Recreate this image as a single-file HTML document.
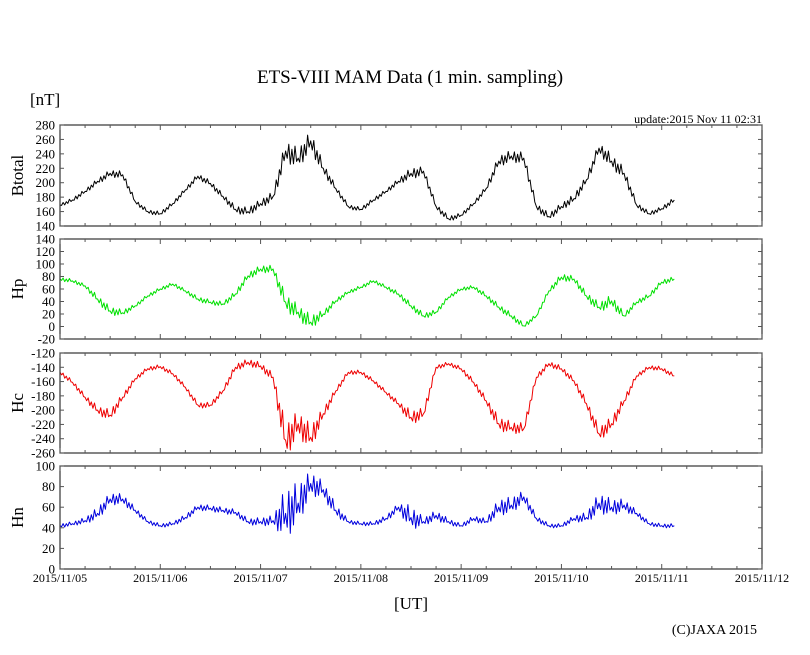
<!DOCTYPE html>
<html><head><meta charset="utf-8">
<style>
body{margin:0;background:#fff;}
svg{display:block;font-family:"Liberation Serif",serif;}
</style></head>
<body>
<svg id="chart" width="810" height="655" viewBox="0 0 810 655" xmlns="http://www.w3.org/2000/svg">
<text x="410" y="83" font-size="19" text-anchor="middle">ETS-VIII MAM Data (1 min. sampling)</text>
<text x="30" y="105" font-size="17">[nT]</text>
<text x="762" y="123" font-size="12" text-anchor="end">update:2015 Nov 11 02:31</text>
<text x="411" y="609" font-size="17" text-anchor="middle">[UT]</text>
<text x="757" y="634" font-size="14" text-anchor="end">(C)JAXA 2015</text>
<g id="plots"></g>
</svg>
<script>
// time step: 3 hours, starting 2015/11/05 00:00 (in days)
const stepDays = 0.125;
const dayLabels = ["2015/11/05","2015/11/06","2015/11/07","2015/11/08","2015/11/09","2015/11/10","2015/11/11","2015/11/12"];
const btotalValues = [169,176,188,202,213,211,174,160,157,171,190,209,199,181,163,160,171,181,244,234,258,220,192,167,163,176,188,202,213,216,167,150,155,171,192,230,237,234,167,153,167,178,204,248,230,213,169,157,164,176];
const btotalSpread = [2,3,3,4,5,5,3,3,3,3,3,4,4,4,5,6,6,7,15,14,14,8,4,3,3,3,3,4,8,6,4,4,3,3,4,8,8,8,5,5,5,6,6,8,10,8,4,3,3,4];
const btotalTicks = [140,160,180,200,220,240,260,280];
const hpValues = [76,73,65,44,25,22,33,49,60,68,57,44,39,36,52,81,92,92,39,23,7,20,41,55,63,73,63,52,33,17,23,47,60,63,49,31,17,1,17,57,79,76,49,31,41,17,39,49,71,76];
const hpSpread = [3,3,3,6,7,5,3,3,3,3,3,4,4,4,5,6,6,6,14,12,12,6,4,3,3,3,3,4,5,5,4,3,3,3,4,5,5,4,3,4,6,5,6,8,10,5,4,4,4,4];
const hpTicks = [-20,0,20,40,60,80,100,120,140];
const hcValues = [-147,-161,-182,-200,-207,-182,-156,-142,-139,-149,-168,-193,-193,-173,-140,-133,-138,-154,-242,-219,-238,-205,-173,-147,-147,-159,-175,-191,-210,-205,-140,-135,-142,-161,-187,-219,-224,-226,-154,-135,-142,-159,-191,-233,-219,-187,-152,-140,-142,-152];
const hcSpread = [3,3,4,6,8,5,3,3,3,3,3,4,4,4,5,5,5,6,25,18,18,8,4,3,3,3,3,4,10,8,3,3,3,4,5,10,8,8,4,4,4,4,6,10,10,6,3,3,3,3];
const hcTicks = [-260,-240,-220,-200,-180,-160,-140,-120];
const hnValues = [42,44,47,54,68,68,57,46,42,44,50,60,59,57,55,46,46,47,54,64,83,77,57,46,44,44,49,60,50,46,52,46,42,49,46,60,62,70,49,42,42,49,50,64,60,62,54,44,42,42];
const hnSpread = [2,2,3,6,6,5,3,2,2,2,3,3,3,3,3,3,4,5,25,20,12,8,6,2,2,2,3,4,12,4,5,3,2,3,3,8,8,6,3,2,2,3,5,10,8,6,3,2,2,2];
const hnTicks = [0,20,40,60,80,100];

const NS = "http://www.w3.org/2000/svg";
const X0 = 60, X1 = 762, DAYS = 7;
function xScale(d){ return X0 + (X1 - X0) * d / DAYS; }
function mk(tag, attrs, parent){
  const e = document.createElementNS(NS, tag);
  for (const k in attrs) e.setAttribute(k, attrs[k]);
  parent.appendChild(e);
  return e;
}
const root = document.getElementById("plots");
const panels = [
  {name:"btotal", title:"Btotal", top:125, bot:226, min:140, max:280, vals:btotalValues, spr:btotalSpread, ticks:btotalTicks, color:"#000000"},
  {name:"hp", title:"Hp", top:239, bot:339, min:-20, max:140, vals:hpValues, spr:hpSpread, ticks:hpTicks, color:"#00e000"},
  {name:"hc", title:"Hc", top:353, bot:453, min:-260, max:-120, vals:hcValues, spr:hcSpread, ticks:hcTicks, color:"#ee0000"},
  {name:"hn", title:"Hn", top:466, bot:569, min:0, max:100, vals:hnValues, spr:hnSpread, ticks:hnTicks, color:"#0000dd"}
];
const pattern = [1,-0.6,0.8,-1,0.5,-0.8,1,-0.4];
panels.forEach((p, pi) => {
  const g = mk("g", {}, root);
  
  
  const yScale = v => p.bot - (p.bot - p.top) * (v - p.min) / (p.max - p.min);
  let pts = [];
  for (let i = 0; i < p.vals.length - 1; i++) {
    for (let s = 0; s < 8; s++) {
      const t = s / 8;
      const d = (i + t) * stepDays;
      const v = p.vals[i] + (p.vals[i+1] - p.vals[i]) * t;
      const sp = p.spr[i] + (p.spr[i+1] - p.spr[i]) * t;
      const vv = s === 0 ? p.vals[i] : v + sp * pattern[s];
      pts.push(xScale(d).toFixed(1) + "," + yScale(vv).toFixed(1));
    }
  }
  const last = p.vals.length - 1;
  pts.push(xScale(last * stepDays).toFixed(1) + "," + yScale(p.vals[last]).toFixed(1));
  const line = mk("polyline", {points: pts.join(" "), fill:"none", stroke:p.color, "stroke-width":1, "stroke-linejoin":"round"}, g);
  
  
  const frame = mk("rect", {x:X0, y:p.top, width:X1-X0, height:p.bot-p.top, fill:"none", stroke:"#333", "stroke-width":1.2}, g);
  
  
  p.ticks.forEach(v => {
    const y = yScale(v);
    mk("line", {x1:X0, x2:X0+4, y1:y, y2:y, stroke:"#555"}, g);
    mk("line", {x1:X1-4, x2:X1, y1:y, y2:y, stroke:"#555"}, g);
    const t = mk("text", {x:55, y:y+4.5, "font-size":13, "text-anchor":"end"}, g);
    t.textContent = v;
    
    
  });
  for (let q = 0; q <= DAYS * 4; q++) {
    const x = xScale(q / 4), len = q % 4 === 0 ? 5 : 3;
    mk("line", {x1:x, x2:x, y1:p.top, y2:p.top+len, stroke:"#555"}, g);
    mk("line", {x1:x, x2:x, y1:p.bot-len, y2:p.bot, stroke:"#555"}, g);
  }
  const cy = (p.top + p.bot) / 2;
  const tt = mk("text", {x:0, y:0, "font-size":17, "text-anchor":"middle", transform:"translate(23," + cy + ") rotate(-90)"}, g);
  tt.textContent = p.title;
  
  
});
dayLabels.forEach((lab, i) => {
  const t = mk("text", {x:xScale(i), y:582, "font-size":12, "text-anchor":"middle"}, root);
  t.textContent = lab;
  
  
});
</script>
</body></html>
